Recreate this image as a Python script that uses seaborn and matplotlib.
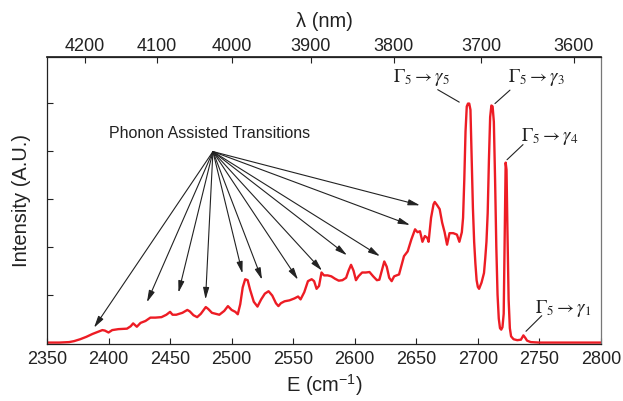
import numpy as np
import pandas as pd
import matplotlib
matplotlib.use("Agg")
import matplotlib.pyplot as plt
import seaborn as sns

# ---------------- data ----------------
energy = [2350, 2360, 2368, 2372, 2377, 2382, 2387, 2391, 2395, 2397, 2400, 2403, 2408,
          2415, 2418, 2420, 2423, 2426, 2430, 2434, 2438, 2443, 2447, 2450, 2452, 2455,
          2460, 2464, 2466, 2469, 2472, 2475, 2479, 2481, 2484, 2487, 2490, 2494, 2497,
          2500, 2503, 2505, 2507, 2509, 2511, 2513, 2515, 2518, 2521, 2524, 2527, 2530,
          2533, 2536, 2538, 2540, 2543, 2547, 2551, 2554, 2556, 2559, 2562, 2565, 2567,
          2569, 2571, 2573, 2575, 2578, 2581, 2584, 2587, 2590, 2593, 2595, 2597, 2599,
          2601, 2603, 2606, 2609, 2612, 2615, 2618, 2620, 2622, 2624, 2626, 2628, 2630,
          2632, 2636, 2640, 2643, 2646, 2649, 2651, 2653, 2655, 2657, 2659, 2660, 2662,
          2664, 2665, 2667, 2669, 2671, 2673, 2675, 2677, 2680, 2683, 2685, 2687, 2688,
          2689, 2690, 2691, 2692, 2693, 2694, 2695, 2696, 2697, 2698, 2699, 2700, 2701,
          2703, 2705, 2706, 2707, 2708, 2709, 2710, 2711, 2712, 2713, 2714, 2715, 2716,
          2717, 2718, 2719, 2720, 2721, 2722, 2722.6, 2723.3, 2724, 2725, 2726, 2727,
          2729, 2732, 2735, 2737, 2738.5, 2740, 2743, 2750, 2800]
intensity = [0.00, 0.00, 0.01, 0.03, 0.07, 0.12, 0.18, 0.22, 0.26, 0.25, 0.21, 0.26, 0.28,
             0.29, 0.34, 0.40, 0.33, 0.41, 0.45, 0.52, 0.52, 0.53, 0.58, 0.64, 0.58, 0.58,
             0.62, 0.68, 0.65, 0.57, 0.53, 0.60, 0.74, 0.70, 0.62, 0.60, 0.58, 0.66, 0.76,
             0.68, 0.64, 0.59, 0.80, 1.15, 1.32, 1.30, 1.10, 0.85, 0.75, 0.90, 1.02, 1.07,
             0.98, 0.82, 0.76, 0.82, 0.86, 0.88, 0.92, 0.96, 0.90, 1.05, 1.28, 1.32, 1.28,
             1.12, 1.18, 1.46, 1.40, 1.40, 1.38, 1.33, 1.29, 1.30, 1.35, 1.50, 1.62, 1.50,
             1.30, 1.38, 1.46, 1.46, 1.47, 1.38, 1.30, 1.31, 1.50, 1.69, 1.58, 1.35, 1.28,
             1.38, 1.42, 1.80, 1.90, 2.15, 2.36, 2.30, 2.32, 2.10, 2.22, 2.18, 2.10, 2.60,
             2.88, 2.93, 2.86, 2.78, 2.50, 2.30, 2.04, 2.28, 2.28, 2.25, 2.10, 2.30, 2.60,
             3.40, 4.40, 4.92, 4.98, 4.98, 4.85, 3.80, 2.80, 2.10, 1.65, 1.30, 1.16, 1.12,
             1.25, 1.45, 1.75, 2.10, 2.70, 3.80, 4.70, 4.94, 4.92, 4.60, 3.40, 2.00, 1.00,
             0.50, 0.30, 0.27, 0.32, 0.60, 2.60, 3.75, 3.60, 2.40, 0.90, 0.30, 0.13,
             0.07, 0.05, 0.06, 0.15, 0.10, 0.04, 0.01, 0.00, 0.00]

# phonon-assisted transition arrow targets
phonon_E = [2388.2, 2431.2, 2456.8, 2478.8, 2508.8, 2524.7, 2553.9, 2573.4, 2593.7,
            2620.5, 2644.9, 2653.0]
phonon_I = [0.31, 0.84, 1.04, 0.90, 1.44, 1.31, 1.31, 1.50, 1.82, 1.80, 2.45, 2.86]
phonon_label = "Phonon Assisted Transitions"
phonon_text_pos = (2482.4, 4.35)
phonon_src = (2484.8, 3.98)

# transition labels: text, text position, line start, line end
trans_labels = [r"$\Gamma_5 \rightarrow \gamma_5$", r"$\Gamma_5 \rightarrow \gamma_3$",
                r"$\Gamma_5 \rightarrow \gamma_4$", r"$\Gamma_5 \rightarrow \gamma_1$"]
trans_text_E = [2654.6, 2747.2, 2758.6, 2769.2]
trans_text_I = [5.52, 5.52, 4.29, 0.71]
trans_line_start_E = [2667.4, 2726.1, 2736.7, 2751.9]
trans_line_start_I = [5.27, 5.26, 4.125, 0.56]
trans_line_end_E = [2684.9, 2713.9, 2723.7, 2739.1]
trans_line_end_I = [5.01, 4.98, 3.81, 0.235]

bottom_ticks = [2350, 2400, 2450, 2500, 2550, 2600, 2650, 2700, 2750, 2800]
top_ticks = [4200, 4100, 4000, 3900, 3800, 3700, 3600]
y_ticks = [1, 2, 3, 4, 5]

# ---------------- style ----------------
sns.set_theme(style="ticks")
plt.rcParams["font.family"] = ["Liberation Sans", "DejaVu Sans"]

fig = plt.figure(figsize=(6.23, 4.01), dpi=100)
ax = fig.add_axes([0.0754, 0.1421, 0.8892, 0.7157])

df = pd.DataFrame({"E": energy, "I": intensity})
sns.lineplot(data=df, x="E", y="I", ax=ax, color="#ed1c24", linewidth=1.7, sort=False)

ax.set_xlim(2350, 2800)
ax.set_ylim(-0.03, 5.95)
ax.set_xticks(bottom_ticks)
ax.set_yticks(y_ticks)
ax.set_yticklabels([])
ax.tick_params(axis="x", direction="in", length=4, width=0.8, labelsize=13, pad=5,
               colors="#222222")
ax.tick_params(axis="y", direction="in", length=4, width=0.8, colors="#222222")
ax.set_xlabel("E (cm$^{\\mathregular{-1}}$)", fontsize=14.5, labelpad=3, color="#222222")
ax.set_ylabel("Intensity (A.U.)", fontsize=14.5, labelpad=8, color="#222222")
for s in ["left", "bottom", "top"]:
    ax.spines[s].set_color("#222222")
    ax.spines[s].set_linewidth(0.9)
ax.spines["right"].set_color("#777777")
ax.spines["right"].set_linewidth(0.9)

sec = ax.secondary_xaxis("top", functions=(lambda x: 1e7 / x, lambda x: 1e7 / x))
sec.set_xticks(top_ticks)
sec.tick_params(axis="x", direction="in", length=4, width=0.8, labelsize=13, pad=1.5,
                colors="#222222")
sec.set_xlabel("λ (nm)", fontsize=14.5, labelpad=8, color="#222222")
sec.spines["top"].set_color("#222222")

# phonon annotations
ax.text(phonon_text_pos[0], phonon_text_pos[1], phonon_label, ha="center", va="center",
        fontsize=11.5, color="#222222")
for xe, yi in zip(phonon_E, phonon_I):
    ax.annotate("", xy=(xe, yi), xytext=phonon_src,
                arrowprops=dict(arrowstyle="-|>,head_length=0.7,head_width=0.18",
                                color="#222222", lw=0.8, shrinkA=0, shrinkB=0,
                                mutation_scale=10))

# transition labels
for lab, tx, ty, sx, sy, ex, ey in zip(trans_labels, trans_text_E, trans_text_I,
                                       trans_line_start_E, trans_line_start_I,
                                       trans_line_end_E, trans_line_end_I):
    ax.text(tx, ty, lab, ha="center", va="center", fontsize=13.5, color="#222222",
            math_fontfamily="stix")
    ax.annotate("", xy=(ex, ey), xytext=(sx, sy),
                arrowprops=dict(arrowstyle="-", color="#222222", lw=0.8,
                                shrinkA=0, shrinkB=0))

fig.savefig("out.png", dpi=100)
